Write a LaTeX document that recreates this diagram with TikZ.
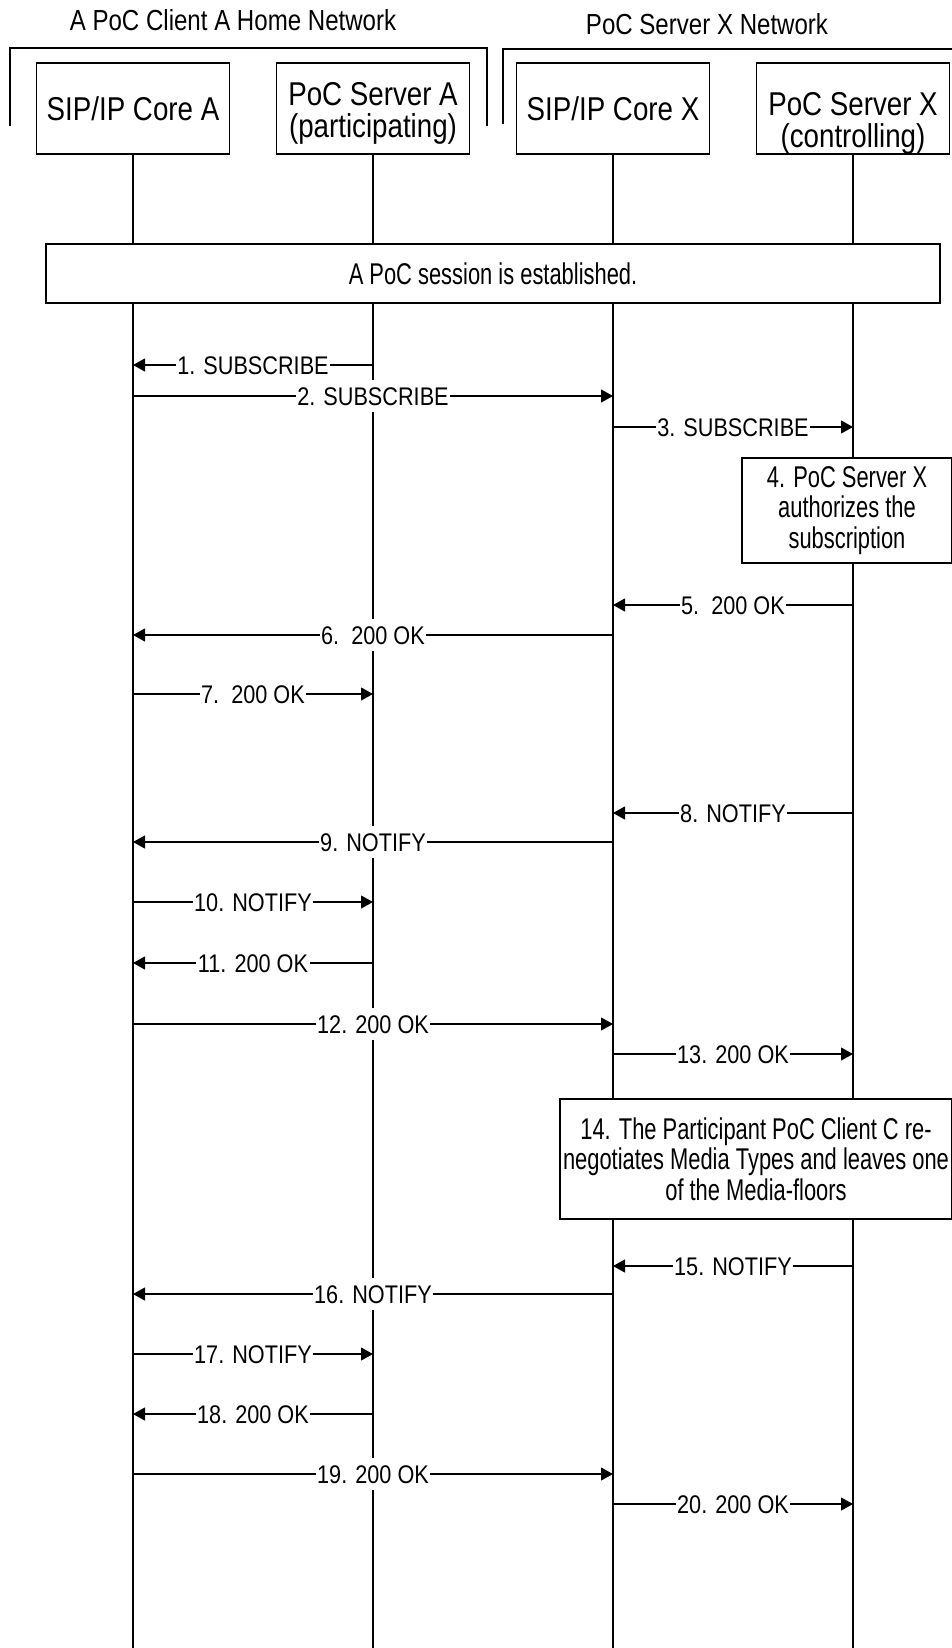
\documentclass[tikz,border=0pt]{standalone}
\usepackage{fontspec}
\setmainfont{Liberation Sans}
\newfontfamily\nwfont{Liberation Sans}[FakeStretch=0.83]
\newfontfamily\hdfont{Liberation Sans}[FakeStretch=0.84]
\newfontfamily\ntfont{Liberation Sans}[FakeStretch=0.73]
\newfontfamily\lbfont{Liberation Sans}[FakeStretch=0.85]
\usetikzlibrary{arrows.meta}
\begin{document}
\begin{tikzpicture}[x=1pt,y=-1pt,
  lane/.style={draw, line width=1.6pt, fill=white, minimum width=193pt, minimum height=91pt, inner sep=0pt, align=center, font=\hdfont\fontsize{33}{32}\selectfont},
  hdtext/.style={inner sep=0pt, align=center, font=\hdfont\fontsize{33}{32}\selectfont},
  nettitle/.style={inner sep=0pt, font=\nwfont\fontsize{29}{30}\selectfont},
  life/.style={line width=1.6pt},
  bracket/.style={line width=1.6pt},
  msg/.style={line width=1.1pt, -{Triangle[length=12pt,width=13pt]}},
  lbl/.style={fill=white, inner xsep=1.5pt, inner ysep=7pt, text height=18pt, text depth=0pt, font=\lbfont\fontsize{25.5}{27}\selectfont},
  note/.style={draw, line width=1.4pt, fill=white, align=center, inner sep=2pt, font=\ntfont\fontsize{30}{30.7}\selectfont},
]
\useasboundingbox (0,0) rectangle (952,1648);

% network titles and brackets
\node[nettitle] (nA) at (233,20) {A PoC Client A Home Network};
\node[nettitle] (nX) at (707,24) {PoC Server X Network};
\draw[bracket] (10,126) -- (10,48) -- (487,48) -- (487,126);
\draw[bracket] (503,124) -- (503,49) -- (953,49);

% participant boxes
\node[lane] (sa) at (133,108.5) {SIP/IP Core A};
\node[lane] (pa) at (373,108.5) {};
\node[hdtext] (pat) at (373,113) {PoC Server A\\(participating)};
\node[lane] (sx) at (613,108.5) {SIP/IP Core X};
\node[lane] (px) at (853,108.5) {};
\node[hdtext] (pxt) at (853,123) {PoC Server X\\(controlling)};

% lifeline ends
\coordinate (saE) at (133,1648);
\coordinate (paE) at (373,1648);
\coordinate (sxE) at (613,1648);
\coordinate (pxE) at (853,1648);
\draw[life] (sa.south) -- (saE);
\draw[life] (pa.south) -- (paE);
\draw[life] (sx.south) -- (sxE);
\draw[life] (px.south) -- (pxE);

% boxes across lifelines
\node[note, minimum width=894pt, minimum height=59pt] (sess) at (493,273.5) {A PoC session is established.};
\node[note, minimum width=210pt, minimum height=105pt] (n4) at (847,510.5) {4. PoC Server X\\authorizes the\\subscription};
\node[note, minimum width=392pt, minimum height=120pt] (n14) at (756,1159) {14. The Participant PoC Client C re-\\negotiates Media Types and leaves one\\of the Media-floors};

% messages
\foreach \n/\from/\to/\y/\txt in {
  1/373/133/365/{1. SUBSCRIBE},
  2/133/613/396/{2. SUBSCRIBE},
  3/613/853/427/{3. SUBSCRIBE},
  5/853/613/605/{5.~~200 OK},
  6/613/133/635/{6.~~200 OK},
  7/133/373/694/{7.~~200 OK},
  8/853/613/813/{8. NOTIFY},
  9/613/133/842/{9. NOTIFY},
  10/133/373/902/{10. NOTIFY},
  11/373/133/963/{11. 200 OK},
  12/133/613/1024/{12. 200 OK},
  13/613/853/1054/{13. 200 OK},
  15/853/613/1266/{15. NOTIFY},
  16/613/133/1294/{16. NOTIFY},
  17/133/373/1354/{17. NOTIFY},
  18/373/133/1414/{18. 200 OK},
  19/133/613/1474/{19. 200 OK},
  20/613/853/1504/{20. 200 OK}} {
  \coordinate (m\n s) at (\from,\y);
  \coordinate (m\n e) at (\to,\y);
  \draw[msg] (m\n s) -- node[lbl] (l\n) {\txt} (m\n e);
}
\end{tikzpicture}
\end{document}
